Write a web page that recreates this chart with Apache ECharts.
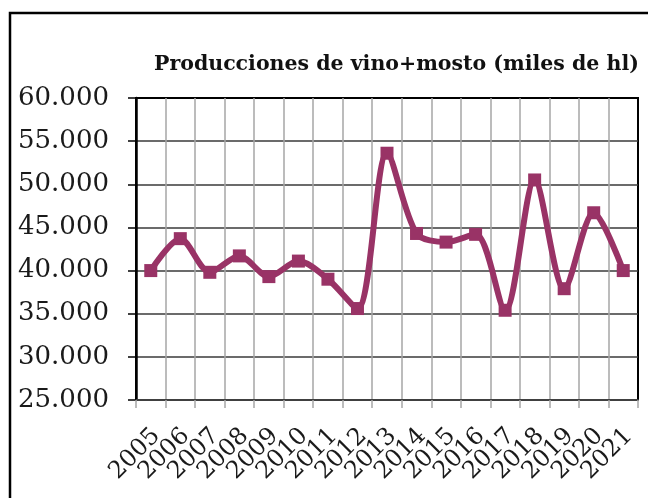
<!DOCTYPE html>
<html>
<head>
<meta charset="utf-8">
<script src="https://cdn.jsdelivr.net/npm/echarts@6/dist/echarts.min.js"></script>
<style>
  html, body { margin: 0; padding: 0; background: #fff; }
  #chart { width: 648px; height: 498px; }
</style>
</head>
<body>
<div id="chart"></div>
<script>
// años (eje X)
var years = ['2005', '2006', '2007', '2008', '2009', '2010', '2011', '2012', '2013',
  '2014', '2015', '2016', '2017', '2018', '2019', '2020', '2021'];
// producción de vino + mosto, miles de hl
var production = [40000, 43700, 39800, 41700, 39300, 41100, 39000, 35600, 53600,
  44300, 43300, 44200, 35400, 50500, 37900, 46700, 40000];

var yMin = 25000;
var yMax = 60000;
var yStep = 5000;

var lineColor = '#993366';
var fontFamily = '"DejaVu Serif", "Liberation Serif", serif';

// 60000 -> "60.000"
function fmtMiles(v) {
  return String(v).replace(/\B(?=(\d{3})+(?!\d))/g, '.');
}

var chart = echarts.init(document.getElementById('chart'), null, { renderer: 'canvas' });

var option = {
  animation: false,
  backgroundColor: '#fff',
  title: {
    text: 'Producciones de vino+mosto (miles de hl)',
    left: 149,
    top: 49,
    textStyle: {
      fontFamily: fontFamily,
      fontWeight: 'bold',
      fontSize: 20.5,
      color: '#111'
    }
  },
  // marco exterior del gráfico
  graphic: [{
    type: 'rect',
    shape: { x: 10, y: 13, width: 700, height: 600 },
    style: { fill: 'none', stroke: '#000', lineWidth: 2.5 },
    silent: true
  }],
  grid: {
    left: 136,
    right: 10,
    top: 98,
    bottom: 98,
    show: true,
    borderColor: '#000',
    borderWidth: 2
  },
  xAxis: {
    type: 'category',
    data: years,
    boundaryGap: true,
    axisLine: { lineStyle: { color: '#404040', width: 2 } },
    axisTick: { show: true, length: 8, lineStyle: { color: '#a6a6a6', width: 1.5 } },
    splitLine: {
      show: true,
      showMinLine: false,
      showMaxLine: false,
      lineStyle: { color: '#a6a6a6', width: 1.5 }
    },
    axisLabel: {
      interval: 0,
      rotate: 45,
      margin: 38,
      padding: [16, -8, 0, 0],
      hideOverlap: false,
      fontFamily: fontFamily,
      fontSize: 24,
      color: '#1a1a1a'
    }
  },
  yAxis: {
    type: 'value',
    min: yMin,
    max: yMax,
    interval: yStep,
    axisLine: { show: true, lineStyle: { color: '#000', width: 2.5 } },
    axisTick: { show: true, length: 8, lineStyle: { color: '#000', width: 1.5 } },
    splitLine: {
      show: true,
      showMinLine: false,
      showMaxLine: false,
      lineStyle: { color: '#3a3a3a', width: 1.5 }
    },
    axisLabel: {
      margin: 27,
      fontFamily: fontFamily,
      fontSize: 26,
      color: '#1a1a1a',
      formatter: fmtMiles
    }
  },
  series: [{
    name: 'vino+mosto',
    type: 'line',
    data: production,
    smooth: 0.3,
    symbol: 'rect',
    symbolSize: 13,
    lineStyle: { color: lineColor, width: 6 },
    itemStyle: { color: lineColor }
  }]
};

chart.setOption(option);
</script>
</body>
</html>
